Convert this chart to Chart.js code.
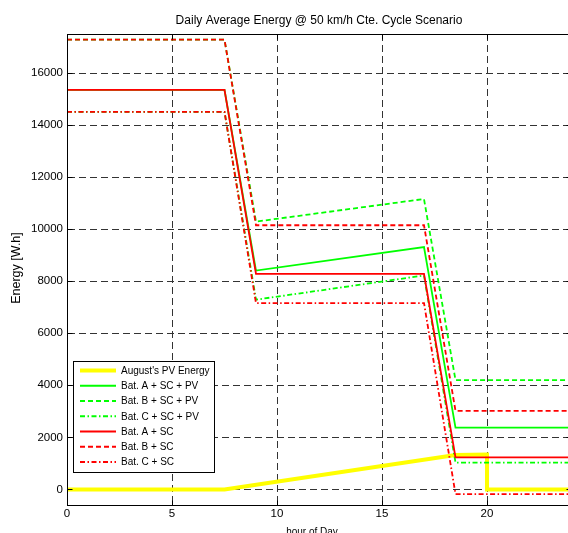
<!DOCTYPE html>
<html>
<head>
<meta charset="utf-8">
<script src="https://cdn.jsdelivr.net/npm/chart.js@4.4.1/dist/chart.umd.min.js"></script>
<style>
  html, body { margin: 0; padding: 0; background: #fff; }
  #wrap { width: 568px; height: 533px; overflow: hidden; }
</style>
</head>
<body>
<div id="wrap"><canvas id="energyChart" width="580" height="533"></canvas></div>
<script>
// Hour of day breakpoints for the battery curves
var hours = [0, 7.5, 9, 17, 18.5, 24];

// Battery + SC + PV (green)
var batA_SC_PV = [15350, 15350, 8410, 9310, 2370, 2370];
var batB_SC_PV = [17280, 17280, 10290, 11160, 4200, 4200];
var batC_SC_PV = [14510, 14510, 7290, 8220, 1030, 1030];

// Battery + SC only (red)
var batA_SC = [15350, 15350, 8280, 8280, 1230, 1230];
var batB_SC = [17280, 17280, 10150, 10150, 3020, 3020];
var batC_SC = [14510, 14510, 7160, 7160, -180, -180];

// August's PV energy
var pvHours = [0, 7.5, 18.5, 20, 20, 24];
var pvEnergy = [0, 0, 1320, 1340, 0, 0];

var xTicks = [0, 5, 10, 15, 20];
var yTicks = [0, 2000, 4000, 6000, 8000, 10000, 12000, 14000, 16000];

var FONT = "'Liberation Sans', Arial, Helvetica, sans-serif";
var DASH = [5, 3];
var DASHDOT = [5, 2.5, 1.5, 2.5];

function pts(xs, ys) {
    return xs.map(function(x, i) { return { x: x, y: ys[i] }; });
}

var datasets = [
    { label: "August's PV Energy", data: pts(pvHours, pvEnergy), borderColor: '#ffff00', borderWidth: 4, borderDash: [] },
    { label: 'Bat. A + SC + PV', data: pts(hours, batA_SC_PV), borderColor: '#00ff00', borderWidth: 1.8, borderDash: [] },
    { label: 'Bat. B + SC + PV', data: pts(hours, batB_SC_PV), borderColor: '#00ff00', borderWidth: 1.8, borderDash: DASH },
    { label: 'Bat. C + SC + PV', data: pts(hours, batC_SC_PV), borderColor: '#00ff00', borderWidth: 1.8, borderDash: DASHDOT },
    { label: 'Bat. A + SC', data: pts(hours, batA_SC), borderColor: '#ff0000', borderWidth: 1.8, borderDash: [] },
    { label: 'Bat. B + SC', data: pts(hours, batB_SC), borderColor: '#ff0000', borderWidth: 1.8, borderDash: DASH },
    { label: 'Bat. C + SC', data: pts(hours, batC_SC), borderColor: '#ff0000', borderWidth: 1.8, borderDash: DASHDOT }
];
// later series are drawn on top, like in the original plot
datasets.forEach(function(ds, i) {
    ds.order = datasets.length - i;
    ds.pointRadius = 0;
    ds.tension = 0;
    ds.fill = false;
});

// box, inward ticks, title, axis labels and legend
var matlabFrame = {
    id: 'matlabFrame',
    afterDraw: function(chart) {
        var ctx = chart.ctx;
        var a = chart.chartArea;
        var xs = chart.scales.x, ys = chart.scales.y;
        var L = Math.round(a.left) + 0.5, R = Math.round(a.right) + 0.5;
        var T = Math.round(a.top) + 0.5, B = Math.round(a.bottom) + 0.5;

        function line(x1, y1, x2, y2) {
            ctx.beginPath();
            ctx.moveTo(x1, y1);
            ctx.lineTo(x2, y2);
            ctx.stroke();
        }

        ctx.save();
        ctx.strokeStyle = '#000';
        ctx.lineWidth = 1;
        ctx.setLineDash([]);
        ctx.strokeRect(L, T, R - L, B - T);

        xTicks.forEach(function(v) {
            var px = Math.round(xs.getPixelForValue(v)) + 0.5;
            line(px, B, px, B - 5);
            line(px, T, px, T + 5);
        });
        yTicks.forEach(function(v) {
            var py = Math.round(ys.getPixelForValue(v)) + 0.5;
            line(L, py, L + 5, py);
            line(R, py, R - 5, py);
        });

        // title and axis labels
        ctx.fillStyle = '#000';
        ctx.textAlign = 'center';
        ctx.textBaseline = 'middle';
        ctx.font = '12px ' + FONT;
        ctx.fillText('Daily Average Energy @ 50 km/h Cte. Cycle Scenario', 319, 21);
        ctx.font = '10px ' + FONT;
        ctx.fillText('hour of Day', 312, 532);
        ctx.save();
        ctx.font = '12.5px ' + FONT;
        ctx.translate(17, 268);
        ctx.rotate(-Math.PI / 2);
        ctx.fillText('Energy [W.h]', 0, 0);
        ctx.restore();

        // legend
        var lx = 73.5, ly = 361.5, lw = 141, lh = 111;
        ctx.fillStyle = '#fff';
        ctx.fillRect(lx, ly, lw, lh);
        ctx.strokeStyle = '#000';
        ctx.lineWidth = 1;
        ctx.strokeRect(lx, ly, lw, lh);

        ctx.font = '10px ' + FONT;
        ctx.textAlign = 'left';
        chart.data.datasets.forEach(function(ds, i) {
            var y = 370.5 + i * 15.25;
            ctx.strokeStyle = ds.borderColor;
            ctx.lineWidth = ds.borderWidth;
            ctx.setLineDash(ds.borderDash || []);
            line(80, y, 116, y);
            ctx.setLineDash([]);
            ctx.fillStyle = '#000';
            ctx.fillText(ds.label, 121, y + 0.5);
        });
        ctx.restore();
    }
};

var ctx1 = document.getElementById('energyChart').getContext('2d');
new Chart(ctx1, {
    type: 'line',
    data: { datasets: datasets },
    plugins: [matlabFrame],
    options: {
        responsive: false,
        animation: false,
        layout: { padding: { top: 34, right: 9, bottom: 0, left: 0 } },
        plugins: {
            legend: { display: false },
            tooltip: { enabled: false }
        },
        scales: {
            x: {
                type: 'linear',
                min: 0,
                max: 24,
                afterBuildTicks: function(s) { s.ticks = xTicks.map(function(v) { return { value: v }; }); },
                afterFit: function(s) { s.height = 28; },
                grid: { color: '#333', lineWidth: 1, drawTicks: false },
                border: { display: true, color: '#000', width: 1, dash: [7, 4] },
                ticks: {
                    color: '#000', padding: 2, maxRotation: 0, autoSkip: false,
                    font: { family: FONT, size: 11.5 },
                    callback: function(v) { return String(v); }
                }
            },
            y: {
                type: 'linear',
                min: -600,
                max: 17500,
                afterBuildTicks: function(s) { s.ticks = yTicks.map(function(v) { return { value: v }; }); },
                afterFit: function(s) { s.width = 67; },
                grid: { color: '#333', lineWidth: 1, drawTicks: false },
                border: { display: true, color: '#000', width: 1, dash: [7, 4] },
                ticks: {
                    color: '#000', padding: 4, autoSkip: false,
                    font: { family: FONT, size: 11.5 },
                    callback: function(v) { return String(v); }
                }
            }
        }
    }
});
</script>
</body>
</html>
